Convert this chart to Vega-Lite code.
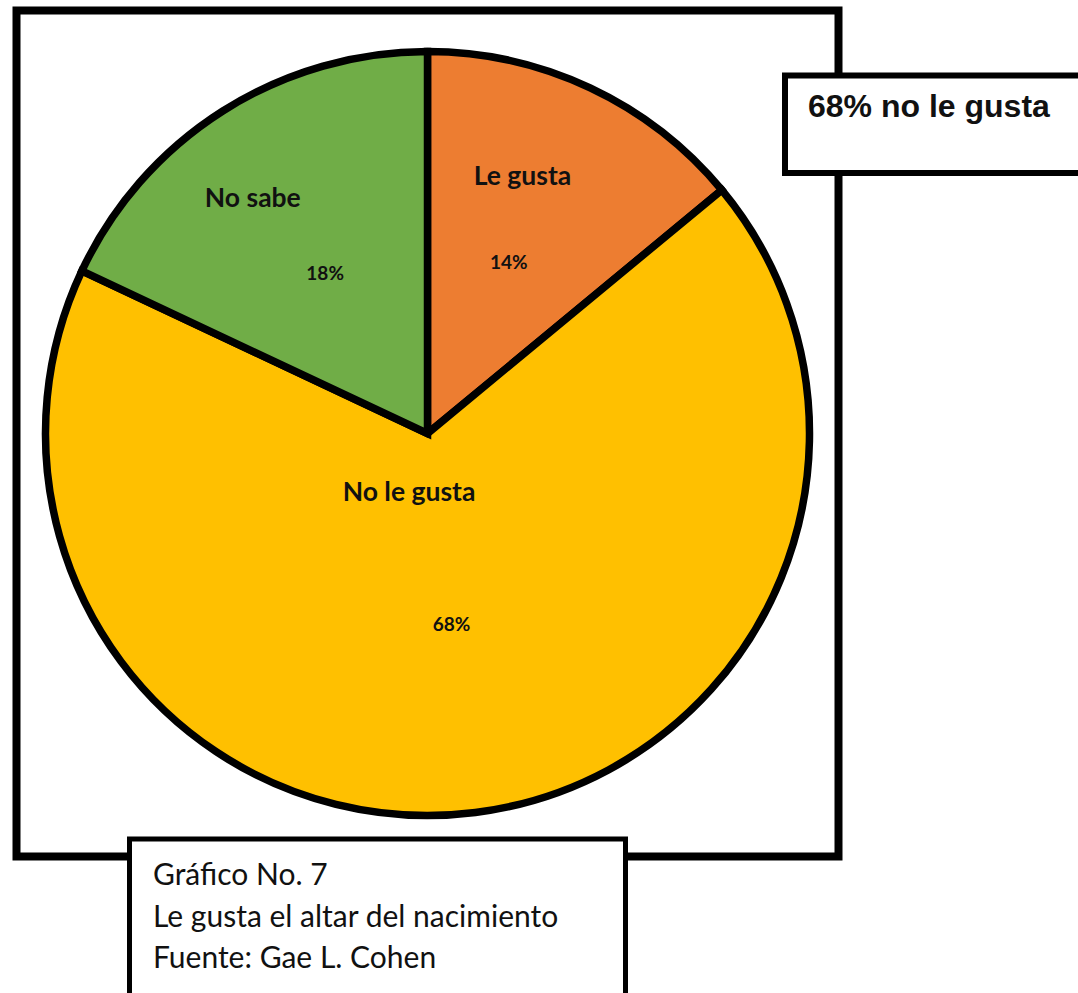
{
  "$schema": "https://vega.github.io/schema/vega-lite/v6.json",
  "background": "white",
  "padding": {"left": 12.5, "top": 6.5, "right": -20, "bottom": -18.5},
  "config": {"view": {"stroke": null}},
  "datasets": {
    "encuesta": [
      {"categoria": "Le gusta", "proporcion": 0.14},
      {"categoria": "No le gusta", "proporcion": 0.68},
      {"categoria": "No sabe", "proporcion": 0.18}
    ]
  },
  "vconcat": [
    {
      "hconcat": [
        {
          "vconcat": [
            {
              "width": 822,
              "height": 846,
              "view": {"stroke": "black", "strokeWidth": 8, "fill": "white"},
              "data": {"name": "encuesta"},
              "encoding": {
                "theta": {"field": "proporcion", "type": "quantitative", "stack": true},
                "order": {"field": "categoria", "type": "nominal", "sort": "ascending"}
              },
              "layer": [
                {
                  "mark": {"type": "arc", "radius": 382, "stroke": "black", "strokeWidth": 7.5, "strokeJoin": "miter"},
                  "encoding": {
                    "color": {
                      "field": "categoria",
                      "type": "nominal",
                      "scale": {"domain": ["Le gusta", "No le gusta", "No sabe"], "range": ["#ED7D31", "#FFC000", "#70AD47"]},
                      "legend": null
                    }
                  }
                },
                {
                  "mark": {"type": "text", "radius": 191, "font": "Lato", "fontWeight": "bold", "fontSize": 19, "fill": "#111111", "dy": 2},
                  "encoding": {
                    "detail": {"field": "categoria", "type": "nominal"},
                    "text": {"field": "proporcion", "type": "quantitative", "format": ".0%"}
                  }
                },
                {
                  "mark": {"type": "text", "font": "Lato", "fontWeight": "bold", "fontSize": 26.5, "fill": "#111111", "dx": -26, "dy": 0},
                  "encoding": {
                    "detail": {"field": "categoria", "type": "nominal"},
                    "radius": {
                      "field": "proporcion",
                      "type": "quantitative",
                      "scale": {"type": "pow", "exponent": 2, "domain": [0.14, 0.68], "range": [284, 60], "zero": false}
                    },
                    "text": {"field": "categoria", "type": "nominal"}
                  }
                }
              ]
            }
          ]
        },
        {
          "vconcat": [
            {
              "width": 310,
              "height": 65,
              "data": {"values": []},
              "mark": "text",
              "view": {"stroke": null, "fill": null}
            },
            {
              "width": 310,
              "height": 97.5,
              "view": {"stroke": "black", "strokeWidth": 6, "fill": "white"},
              "data": {"values": [{"nota": "68% no le gusta"}]},
              "mark": {"type": "text", "align": "left", "baseline": "alphabetic", "font": "Liberation Sans", "fontWeight": "bold", "fontSize": 32, "fill": "#111111", "dx": -132, "dy": -7.25},
              "encoding": {"text": {"field": "nota", "type": "nominal"}}
            }
          ],
          "spacing": 0,
          "bounds": "flush"
        }
      ],
      "spacing": 768.5,
      "bounds": "flush"
    },
    {
      "hconcat": [
        {
          "width": 113,
          "height": 10,
          "data": {"values": []},
          "mark": "text",
          "view": {"stroke": null, "fill": null}
        },
        {
          "width": 496,
          "height": 170,
          "view": {"stroke": "black", "strokeWidth": 5, "fill": "white"},
          "data": {"values": [{"lineas": ["Gráfico No. 7", "Le gusta el altar del nacimiento", "Fuente: Gae L. Cohen"]}]},
          "mark": {"type": "text", "align": "left", "baseline": "alphabetic", "font": "Lato", "fontSize": 30, "lineHeight": 41.5, "fill": "#111111", "dx": -224.5, "dy": -39},
          "encoding": {"text": {"field": "lineas", "type": "nominal"}}
        }
      ],
      "spacing": 0,
      "bounds": "flush"
    }
  ],
  "spacing": 828.5,
  "bounds": "flush"
}
